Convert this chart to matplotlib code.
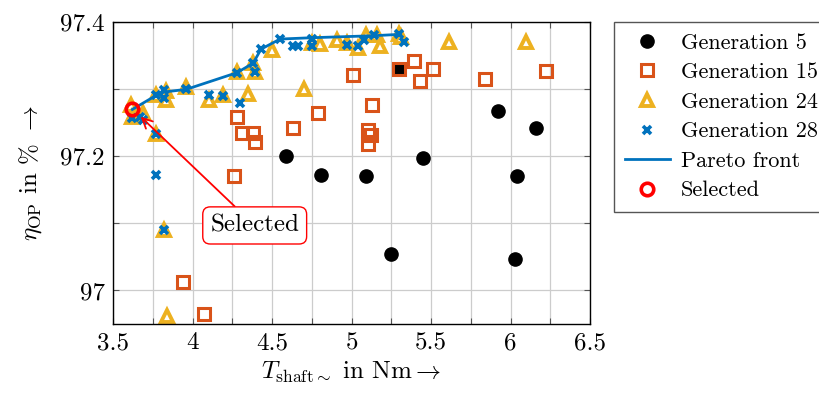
import numpy as np
import matplotlib.pyplot as plt
from matplotlib.ticker import MultipleLocator

plt.rcParams['font.family'] = ['cmr10', 'DejaVu Serif']
plt.rcParams['mathtext.fontset'] = 'cm'
plt.rcParams['axes.unicode_minus'] = False

# data
x_gen5 = [4.59, 4.81, 5.09, 5.45, 5.25, 5.92, 6.04, 6.03, 6.16, 5.30]
y_gen5 = [97.201, 97.172, 97.171, 97.197, 97.055, 97.268, 97.171, 97.047, 97.242, 97.330]

x_gen15 = [4.28, 4.31, 4.38, 4.39, 4.63, 4.79, 5.01, 5.13, 5.10, 5.12, 5.10, 5.30,
           5.39, 5.51, 5.43, 5.84, 6.22, 4.26, 3.94, 4.07]
y_gen15 = [97.258, 97.235, 97.235, 97.221, 97.242, 97.265, 97.322, 97.277, 97.240, 97.232,
           97.218, 97.330, 97.342, 97.330, 97.313, 97.316, 97.327, 97.170, 97.012, 96.965]

x_gen24 = [3.61, 3.69, 3.62, 3.77, 3.77, 3.83, 3.83, 3.96, 4.10, 4.19, 4.35, 4.28, 4.38,
           4.39, 4.50, 4.70, 4.75, 4.80, 4.91, 4.97, 5.04, 5.09, 5.16, 5.18, 5.30, 5.31,
           5.61, 6.10, 3.82, 3.84]
y_gen24 = [97.277, 97.264, 97.258, 97.234, 97.291, 97.297, 97.284, 97.303, 97.284, 97.291,
           97.293, 97.326, 97.340, 97.326, 97.358, 97.301, 97.369, 97.368, 97.374, 97.369,
           97.361, 97.381, 97.381, 97.364, 97.383, 97.378, 97.371, 97.370, 97.090, 96.962]

x_gen28 = [3.62, 3.67, 3.69, 3.77, 3.77, 3.82, 3.82, 3.96, 4.10, 4.19, 4.30, 4.28, 4.38,
           4.39, 4.43, 4.55, 4.63, 4.66, 4.75, 4.75, 4.97, 5.04, 5.08, 5.14, 5.30, 5.33,
           3.77, 3.82]
y_gen28 = [97.257, 97.258, 97.255, 97.233, 97.291, 97.299, 97.287, 97.300, 97.291, 97.290,
           97.279, 97.325, 97.339, 97.326, 97.360, 97.375, 97.365, 97.365, 97.375, 97.365,
           97.366, 97.364, 97.373, 97.381, 97.383, 97.371, 97.172, 97.090]

x_pareto = [3.62, 3.77, 3.82, 3.96, 4.28, 4.38, 4.43, 4.55, 4.75, 5.14, 5.30]
y_pareto = [97.270, 97.291, 97.296, 97.300, 97.325, 97.339, 97.360, 97.375, 97.377, 97.380, 97.382]

x_sel = [3.62]
y_sel = [97.270]

xticks = [3.5, 4, 4.5, 5, 5.5, 6, 6.5]
xtick_labels = ["3.5", "4", "4.5", "5", "5.5", "6", "6.5"]
yticks = [97.0, 97.2, 97.4]
ytick_labels = ["97", "97.2", "97.4"]

fig = plt.figure(figsize=(8.19, 3.94), dpi=100)
ax = fig.add_axes([0.1383, 0.1777, 0.5821, 0.7657])

ax.plot(x_gen5, y_gen5, 'o', color='black', ms=9.5, ls='none', label='Generation 5')
ax.plot(x_gen15, y_gen15, 's', mfc='none', mec='#D95319', mew=2.2, ms=8, ls='none',
        label='Generation 15')
ax.plot(x_gen24, y_gen24, '^', mfc='white', mec='#EDB120', mew=2.8, ms=8, ls='none',
        label='Generation 24')
ax.plot(x_gen28, y_gen28, 'x', color='#0072BD', mew=2.6, ms=6, ls='none',
        label='Generation 28')
ax.plot(x_pareto, y_pareto, '-', color='#0072BD', lw=2, label='Pareto front')
ax.plot(x_sel, y_sel, 'o', mfc='none', mec='red', mew=2.6, ms=9, ls='none',
        label='Selected')

ax.annotate('Selected', xy=(3.66, 97.262), xytext=(4.39, 97.097),
            fontsize=18, ha='center', va='center',
            bbox=dict(boxstyle='round,pad=0.3', fc='white', ec='red', lw=1),
            arrowprops=dict(arrowstyle='->', color='red', lw=1.3, shrinkA=0, shrinkB=2))

ax.set_xlim(3.5, 6.5)
ax.set_ylim(96.95, 97.4)
ax.set_xticks(xticks)
ax.set_xticklabels(xtick_labels)
ax.set_yticks(yticks)
ax.set_yticklabels(ytick_labels)
ax.xaxis.set_minor_locator(MultipleLocator(0.25))
ax.yaxis.set_minor_locator(MultipleLocator(0.1))
ax.grid(True, which='both', color='#cccccc', lw=0.9)
ax.set_axisbelow(True)
ax.tick_params(which='both', direction='in', top=True, right=True, length=4,
               width=0.8, color='#555555', labelsize=18, pad=6)
for s in ax.spines.values():
    s.set_linewidth(1)

ax.set_xlabel(r'$T_{\mathrm{shaft}\sim}$ in Nm$\rightarrow$', fontsize=18, labelpad=4)
ax.set_ylabel(r'$\eta_{\mathrm{OP}}$ in $\%$ $\rightarrow$', fontsize=18, labelpad=12)

fig.legend(loc='upper left', bbox_to_anchor=(614 / 819, 1 - 22 / 394), borderaxespad=0,
           fontsize=16, fancybox=False, edgecolor='#555555', framealpha=1,
           handlelength=2.0, handletextpad=0.5, labelspacing=0.45, borderpad=0.5)

fig.savefig('out.png', dpi=100)
